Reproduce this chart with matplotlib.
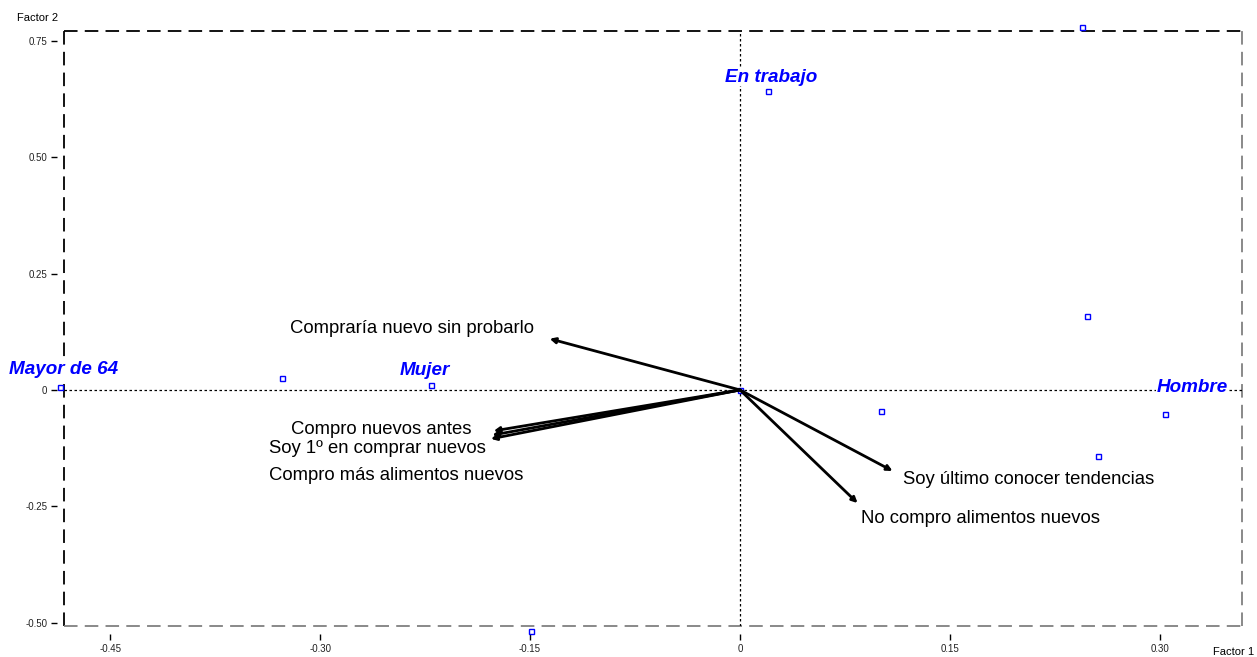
import matplotlib.pyplot as plt
from matplotlib.lines import Line2D

plt.rcParams['font.family'] = ['Liberation Sans', 'DejaVu Sans']

# supplementary category points (factor 1, factor 2)
pts_x = [-0.486, -0.327, -0.221, -0.149, 0.0, 0.020, 0.101, 0.244, 0.248, 0.256, 0.304]
pts_y = [0.007, 0.026, 0.011, -0.518, 0.0, 0.642, -0.045, 0.780, 0.159, -0.142, -0.052]

# blue category labels
cat_names = ['Mayor de 64', 'Mujer', 'En trabajo', 'Hombre']
cat_x = [-0.483, -0.225, 0.022, 0.323]
cat_y = [0.043, 0.041, 0.672, 0.006]

# variable vectors
var_names = ['Compraría nuevo sin probarlo', 'Compro nuevos antes',
             'Soy 1º en comprar nuevos', 'Compro más alimentos nuevos',
             'Soy último conocer tendencias', 'No compro alimentos nuevos']
vec_x = [-0.136, -0.176, -0.178, -0.177, 0.109, 0.084]
vec_y = [0.110, -0.088, -0.105, -0.097, -0.174, -0.243]
lab_x = [-0.234, -0.256, -0.259, -0.246, 0.206, 0.172]
lab_y = [0.133, -0.084, -0.125, -0.183, -0.193, -0.277]

xticks = [-0.45, -0.30, -0.15, 0, 0.15, 0.30]
yticks = [0.75, 0.50, 0.25, 0, -0.25, -0.50]

fig = plt.figure(figsize=(12.57, 6.57), dpi=100)
ax = fig.add_axes([0.0509, 0.0472, 0.9371, 0.9056])
ax.set_xlim(-0.483, 0.3586)
ax.set_ylim(-0.507, 0.771)

# frame: dashed, black on top/left, grey on bottom/right
dash = (0, (7.5, 4))
for side in ['left', 'bottom', 'top', 'right']:
    ax.spines[side].set_visible(False)
ax.spines['left'].set_position(('outward', 5))
ax.spines['bottom'].set_position(('outward', 6))
frame = [([0, 1], [1, 1], 'black'), ([0, 0], [0, 1], 'black'),
         ([0, 1], [0, 0], '#808080'), ([1, 1], [0, 1], '#808080')]
for fx, fy, c in frame:
    ax.add_line(Line2D(fx, fy, transform=ax.transAxes, color=c, lw=1.3,
                       ls=dash, clip_on=False))

ax.axhline(0, color='black', lw=0.9, ls=(0, (2, 2)))
ax.axvline(0, color='black', lw=0.9, ls=(0, (2, 2)))

ax.set_xticks(xticks)
ax.set_xticklabels(['-0.45', '-0.30', '-0.15', '0', '0.15', '0.30'])
ax.set_yticks(yticks)
ax.set_yticklabels(['0.75', '0.50', '0.25', '0', '-0.25', '-0.50'])
ax.tick_params(axis='both', direction='out', length=4.5, width=1,
               labelsize=7, colors='black', labelcolor='#222222', pad=2.5)

ax.plot(pts_x, pts_y, ls='none', marker='s', ms=3.6, mfc='white',
        mec='blue', mew=1, clip_on=False, zorder=3)

for vx, vy in zip(vec_x, vec_y):
    ax.annotate('', xy=(vx, vy), xytext=(0, 0),
                arrowprops=dict(arrowstyle='-|>', color='black', lw=2,
                                mutation_scale=8, shrinkA=0, shrinkB=0))

for name, tx, ty in zip(var_names, lab_x, lab_y):
    ax.text(tx, ty, name, fontsize=13.3, ha='center', va='center', color='black')

for name, tx, ty in zip(cat_names, cat_x, cat_y):
    ax.text(tx, ty, name, fontsize=13.6, ha='center', va='center', color='blue',
            fontweight='bold', fontstyle='italic', zorder=4,
            bbox=dict(facecolor='white', edgecolor='none', pad=0.5))

fig.text(38 / 1257, 1 - 18 / 657, 'Factor 2', fontsize=8, ha='center', va='center')
fig.text(1234 / 1257, 1 - 652 / 657, 'Factor 1', fontsize=8, ha='center', va='center')

fig.savefig('out.png', dpi=100)
